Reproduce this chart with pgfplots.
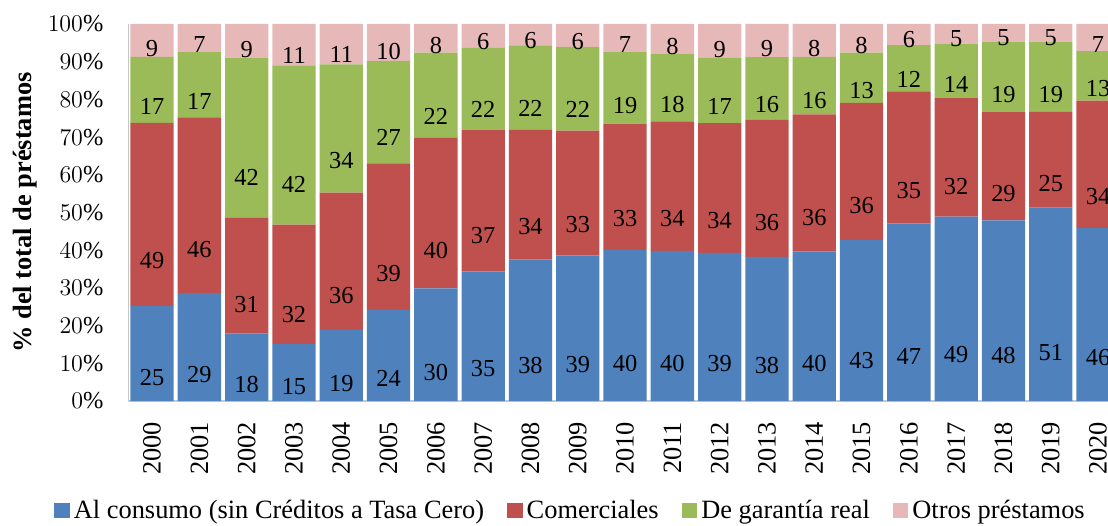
\documentclass[border=0pt]{standalone}
\usepackage{pgfplots}
\pgfplotsset{compat=1.18}
\usepackage{pgfplotstable}
\usepackage{fontspec}
\setmainfont{Liberation Serif}

\definecolor{consumo}{HTML}{4F81BD}
\definecolor{comerc}{HTML}{C0504D}
\definecolor{garantia}{HTML}{9BBB59}
\definecolor{otros}{HTML}{E6B9B8}

% shares of total loans (%); l* = printed labels
\pgfplotstableread{
yr   a    b    c    d    la lb lc ld
2000 25.2 48.6 17.5 8.7  25 49 17 9
2001 28.6 46.6 17.5 7.3  29 46 17 7
2002 17.9 30.7 42.5 8.9  18 31 42 9
2003 15.1 31.7 42.2 11.0 15 32 42 11
2004 18.9 36.4 34.0 10.7 19 36 34 11
2005 24.1 38.9 27.2 9.8  24 39 27 10
2006 29.9 39.9 22.6 7.6  30 40 22 8
2007 34.4 37.6 21.7 6.3  35 37 22 6
2008 37.6 34.3 22.4 5.7  38 34 22 6
2009 38.6 33.1 22.2 6.1  39 33 22 6
2010 40.1 33.5 19.1 7.3  40 33 19 7
2011 39.8 34.4 17.8 8.0  40 34 18 8
2012 39.3 34.4 17.3 9.0  39 34 17 9
2013 38.2 36.4 16.6 8.8  38 36 16 9
2014 39.7 36.3 15.3 8.7  40 36 16 8
2015 42.7 36.4 13.3 7.6  43 36 13 8
2016 47.1 35.0 12.3 5.6  47 35 12 6
2017 48.9 31.6 14.3 5.2  49 32 14 5
2018 47.9 28.7 18.7 4.7  48 29 19 5
2019 51.3 25.4 18.6 4.7  51 25 19 5
2020 45.9 33.8 13.1 7.2  46 34 13 7
}\prestamos

\begin{document}
\begin{tikzpicture}[font=\fontsize{12.2}{14}\selectfont]
\begin{axis}[
    x=23.65pt, y=1.885pt,
    ybar stacked,
    bar width=21.65pt,
    xmin=-0.5, xmax=20.21,
    ymin=0, ymax=100,
    axis x line*=bottom,
    axis y line*=left,
    axis line style={draw=black!22, line width=0.8pt},
    major tick length=0pt,
    ytick={0,10,...,100},
    yticklabel={\pgfmathprintnumber{\tick}\%},
    yticklabel style={anchor=east, xshift=-9pt},
    xtick={0,...,20},
    xticklabels from table={\prestamos}{yr},
    xticklabel style={font=\fontsize{13.2}{15}\selectfont, rotate=90, anchor=east, xshift=-7pt},
    ylabel={\bfseries \% del total de préstamos},
    ylabel style={font=\fontsize{13.2}{15}\selectfont, at={(axis description cs:-0.1055,0.5)}, anchor=center},
    legend columns=-1,
    legend style={at={(axis description cs:0.4503,-0.2918)}, anchor=center, draw=none,
        font=\fontsize{13.2}{15}\selectfont,
        nodes={inner xsep=0pt},
        /tikz/every odd column/.append style={column sep=2pt},
        /tikz/every even column/.append style={column sep=11.5pt}},
    legend image code/.code={\fill[#1] (0pt,-3.3pt) rectangle (7.8pt,3.9pt);},
    % label sits at the top of its segment; the shift below brings it to the middle
    seg/.style={fill=#1, draw=none, nodes near coords, point meta=explicit symbolic,
        every node near coord/.style={anchor=center, text=black,
            yshift={-0.47125pt*\segval}}},
]
\addplot[seg=consumo, visualization depends on={\thisrow{a} \as \segval}]
    table[x expr=\coordindex, y=a, meta=la] {\prestamos};
\addplot[seg=comerc, visualization depends on={\thisrow{b} \as \segval}]
    table[x expr=\coordindex, y=b, meta=lb] {\prestamos};
\addplot[seg=garantia, visualization depends on={\thisrow{c} \as \segval}]
    table[x expr=\coordindex, y=c, meta=lc] {\prestamos};
\addplot[seg=otros, visualization depends on={\thisrow{d} \as \segval}]
    table[x expr=\coordindex, y=d, meta=ld] {\prestamos};
\legend{Al consumo (sin Créditos a Tasa Cero), Comerciales, De garantía real, Otros préstamos}
\end{axis}
\pgfresetboundingbox
\path[use as bounding box] ([xshift=-64.2pt,yshift=-62pt]current axis.south west)
    rectangle ([yshift=12pt]current axis.north east);
\end{tikzpicture}
\end{document}
